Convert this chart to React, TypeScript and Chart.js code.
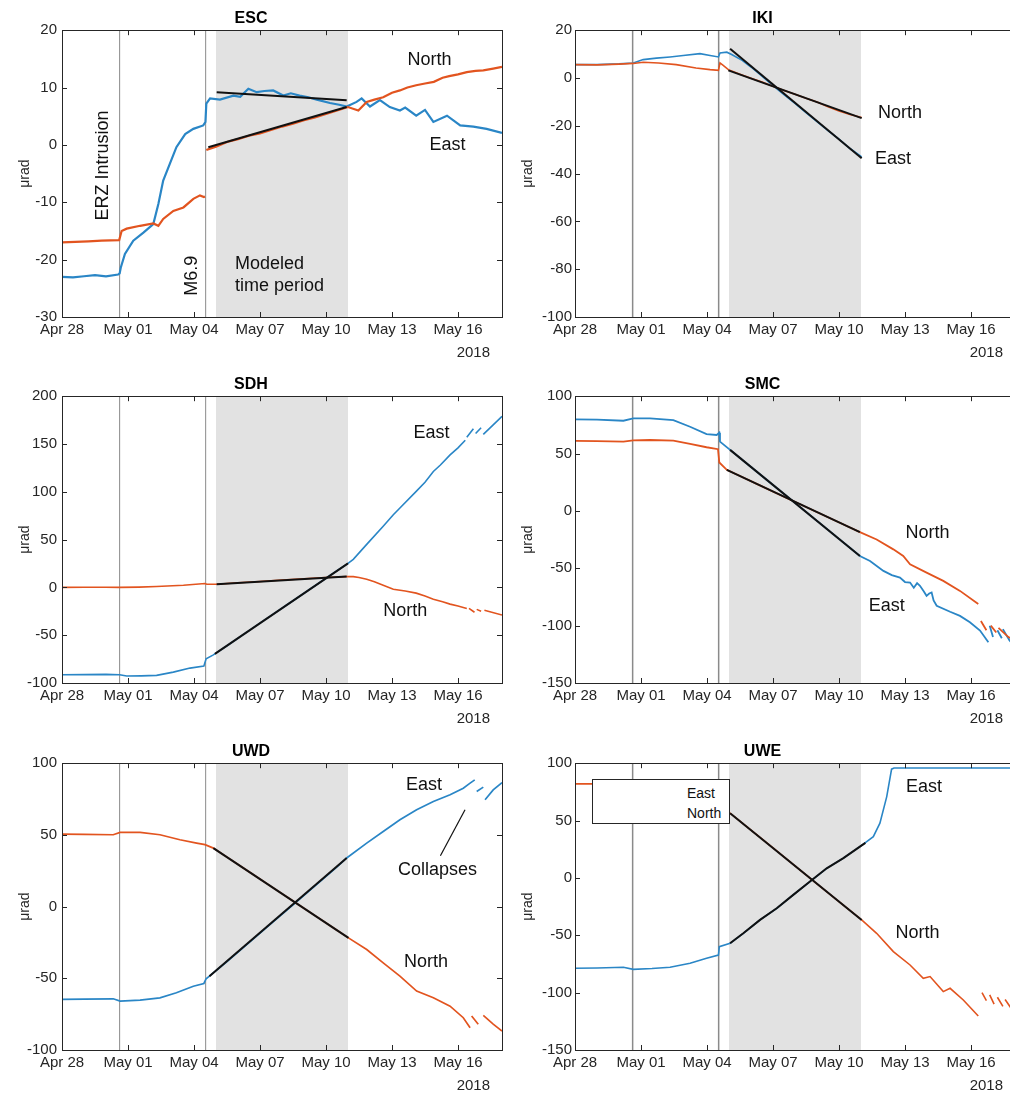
import React, { useEffect, useRef } from 'react';
import { Chart, registerables } from 'chart.js';

Chart.register(...registerables);

type Pt = [number, number | null];

// Time axis: days since 2018-04-28 00:00 (HST)
const tickDays = [0, 3, 6, 9, 12, 15, 18];
const tickLabels = ['Apr 28', 'May 01', 'May 04', 'May 07', 'May 10', 'May 13', 'May 16'];
const yearLabel = '2018';
const dayRange = [0, 20];
const erzIntrusionDay = 2.62;
const m69Day = 6.53;
const modeledPeriod = [7, 13];

// ---------------- ESC ----------------
const escEast: Pt[] = [
  [0, -23.0], [0.5, -23.1], [1.0, -22.9], [1.5, -22.7], [2.0, -22.9], [2.55, -22.6], [2.62, -22.4],
  [2.67, -21.4], [2.86, -19.0], [3.24, -16.7], [3.7, -15.3], [4.15, -13.8], [4.38, -10.3], [4.6, -6.2],
  [4.9, -3.3], [5.2, -0.4], [5.6, 1.9], [5.97, 2.8], [6.42, 3.4], [6.52, 4.0], [6.56, 7.2], [6.73, 8.1],
  [7.18, 7.9], [7.79, 8.6], [8.1, 8.4], [8.47, 9.8], [8.85, 9.2], [9.2, 9.4], [9.6, 9.5], [10.06, 8.6],
  [10.4, 9.0], [10.8, 8.6], [11.2, 8.3], [11.58, 7.9], [12.18, 7.3], [12.6, 7.0], [12.94, 6.7], [13.39, 7.5],
  [13.62, 8.1], [14.0, 6.7], [14.45, 7.8], [14.9, 6.6], [15.36, 6.0], [15.6, 6.5], [16.1, 5.1], [16.5, 6.1],
  [16.88, 4.0], [17.5, 5.1], [18.1, 3.4], [18.7, 3.2], [19.3, 2.8], [20, 2.1],
];
const escNorth: Pt[] = [
  [0, -17.0], [0.6, -16.9], [1.2, -16.8], [1.8, -16.7], [2.6, -16.6], [2.71, -15.0], [2.94, -14.6],
  [3.55, -14.1], [4.15, -13.7], [4.38, -14.1], [4.6, -12.9], [5.06, -11.5], [5.52, -10.9], [5.97, -9.4],
  [6.27, -8.8], [6.45, -9.1], [6.5, -9.0], [6.53, null], [6.56, -0.9], [7.0, -0.3], [7.5, 0.5], [8.0, 1.0],
  [8.5, 1.6], [9.0, 2.0], [9.5, 2.6], [10.0, 3.2], [10.5, 3.7], [11.0, 4.3], [11.5, 4.8], [12.0, 5.4],
  [12.5, 6.0], [13.0, 6.6], [13.47, 6.0], [13.85, 7.5], [14.2, 7.9], [14.6, 8.3], [15.0, 9.1], [15.36, 9.5],
  [15.7, 10.0], [16.1, 10.4], [16.5, 10.7], [16.9, 11.0], [17.3, 11.7], [17.6, 12.0], [18.0, 12.3],
  [18.4, 12.7], [18.8, 12.9], [19.15, 13.0], [19.6, 13.3], [20, 13.6],
];
const escEastFit: Pt[] = [[7.03, 9.2], [12.94, 7.8]];
const escNorthFit: Pt[] = [[6.65, -0.4], [12.94, 6.6]];

// ---------------- IKI ----------------
const ikiEast: Pt[] = [
  [0, 5.6], [1, 5.6], [2, 5.9], [2.65, 6.3], [3.1, 7.7], [3.7, 8.3], [4.32, 8.8], [4.92, 9.4], [5.68, 10.2],
  [6.14, 9.4], [6.52, 8.8], [6.59, 10.5], [6.9, 10.8], [7.12, 9.8], [7.6, 7.4], [8.0, 4.6], [8.5, 0.8],
  [9.0, -3.2], [9.5, -7.0], [10.0, -10.6], [10.5, -14.5], [11.0, -18.3], [11.5, -22.0], [12.0, -25.6],
  [12.5, -29.5], [13.03, -33.0],
];
const ikiNorth: Pt[] = [
  [0, 5.6], [1, 5.5], [2, 5.8], [2.65, 6.1], [3.1, 6.6], [3.8, 6.3], [4.6, 5.6], [5.5, 4.2], [6.14, 3.5],
  [6.52, 3.2], [6.59, 6.3], [6.75, 5.2], [6.97, 3.5], [7.5, 1.6], [8.0, -0.1], [8.5, -1.7], [9.0, -3.5],
  [9.5, -5.2], [10.0, -6.8], [10.5, -8.5], [11.0, -10.0], [11.5, -12.0], [12.0, -13.8], [12.5, -15.3],
  [13.03, -16.5],
];
const ikiEastFit: Pt[] = [[7.05, 12.2], [13.03, -33.6]];
const ikiNorthFit: Pt[] = [[6.97, 3.2], [13.03, -16.8]];

// ---------------- SDH ----------------
const sdhEast: Pt[] = [
  [0, -91.4], [1, -91.2], [2, -91.0], [2.62, -91.4], [2.94, -92.7], [3.6, -92.5], [4.3, -92.0], [5.06, -88.6],
  [5.82, -84.4], [6.45, -82.3], [6.55, -74.7], [6.88, -70.6], [7.5, -61], [8.5, -45.3], [9.5, -29.6],
  [10.5, -14], [11.5, 1.7], [12.5, 17.4], [13.0, 25.2], [13.24, 29.3], [13.85, 45], [14.6, 64], [15.06, 76],
  [15.36, 83], [16.1, 100.4], [16.5, 110], [16.88, 121.3], [17.2, 128], [17.64, 138.6], [18.0, 146],
  [18.33, 154], [18.36, null], [18.4, 157], [18.7, 166], [18.75, null], [18.8, 161], [19.05, 167],
  [19.1, null], [19.15, 160], [19.6, 170], [20, 179],
];
const sdhNorth: Pt[] = [
  [0, 0], [1, 0.1], [2, 0.2], [2.62, 0], [3.5, 0.3], [4.3, 0.9], [5.52, 2.3], [6.5, 4.0], [6.58, 3.3],
  [7.03, 3.3], [8, 4.8], [9, 6.2], [10, 7.8], [11, 9], [12, 10.3], [12.94, 11.3], [13.24, 11.3], [13.5, 10.3],
  [13.85, 8.5], [14.2, 6], [14.6, 2.3], [15.06, -1.9], [15.6, -3.8], [16.1, -6], [16.5, -9], [16.88, -12.3],
  [17.3, -15], [17.64, -17.5], [18.0, -19.5], [18.4, -22], [18.45, null], [18.5, -22], [18.75, -26],
  [18.8, null], [18.85, -23], [19.05, -25], [19.12, null], [19.2, -24], [20, -28.9],
];
const sdhEastFit: Pt[] = [[6.95, -69.5], [13.0, 25.2]];
const sdhNorthFit: Pt[] = [[7.03, 3.3], [12.94, 11.3]];

// ---------------- SMC ----------------
const smcEast: Pt[] = [
  [0, 79.8], [1, 79.5], [2.2, 78.6], [2.65, 80.6], [3.41, 80.6], [4.47, 79.2], [5.23, 73.4], [5.98, 67],
  [6.44, 66.2], [6.56, 68.2], [6.59, 60.4], [7.05, 53.2], [8, 38.3], [9, 22.6], [10, 7], [11, -8.7],
  [12, -24.4], [12.95, -39.3], [13.41, -43.6], [14.02, -52.3], [14.4, -56], [14.77, -58.1], [15.0, -62],
  [15.23, -62.4], [15.4, -67], [15.55, -63], [15.68, -65.3], [15.85, -70], [15.98, -74], [16.1, -72],
  [16.21, -71.1], [16.3, -78], [16.44, -82.7], [17.05, -87.9], [17.5, -91.5], [17.95, -97.1], [18.41, -104.3],
  [18.79, -114.5], [18.82, null], [18.85, -100], [19.0, -110], [19.1, null], [19.2, -104], [19.4, -111],
  [19.42, null], [19.45, -103], [19.75, -113], [20, -118],
];
const smcNorth: Pt[] = [
  [0, 61], [1, 60.8], [2.2, 60.4], [2.65, 61.5], [3.41, 61.8], [4.47, 61.3], [5.23, 58.4], [5.98, 55.5],
  [6.5, 53.8], [6.56, 42.2], [6.9, 35.8], [7.5, 30.4], [8.5, 21.4], [9.5, 12.4], [10.5, 3.4], [11.5, -5.5],
  [12.5, -14.5], [12.95, -18.5], [13.71, -24.9], [14.47, -33.5], [14.92, -39.3], [15.23, -46.5],
  [15.98, -53.8], [16.74, -61], [17.5, -69.7], [18.33, -81.2], [18.4, null], [18.45, -96], [18.7, -104],
  [18.8, null], [18.9, -100], [19.15, -106], [19.2, null], [19.25, -102], [19.7, -110], [20, -113],
];
const smcEastFit: Pt[] = [[7.05, 53.2], [12.95, -39.3]];
const smcNorthFit: Pt[] = [[6.9, 35.8], [12.95, -18.5]];

// ---------------- UWD ----------------
const uwdEast: Pt[] = [
  [0, -64.7], [1, -64.5], [2.33, -64.3], [2.64, -65.9], [3.55, -65.2], [4.45, -63.6], [5.2, -60.1],
  [5.97, -55.5], [6.45, -53.6], [6.55, -50.3], [6.7, -48.5], [7.5, -38.3], [8.5, -25.1], [9.5, -11.9],
  [10.5, 1.3], [11.5, 14.5], [12.5, 27.7], [12.94, 33.9], [13.85, 44.3], [14.6, 52.4], [15.36, 60.6],
  [16.12, 67.5], [16.88, 73.3], [17.64, 78], [18.24, 82.6], [18.55, 86.1], [18.76, 88.4], [18.8, null],
  [18.85, 80.3], [19.15, 83.3], [19.2, null], [19.23, 74.5], [19.6, 81.4], [20, 86.5],
];
const uwdNorth: Pt[] = [
  [0, 50.6], [1, 50.4], [2.33, 50.1], [2.64, 51.7], [3.55, 51.7], [4.45, 50.1], [5.36, 46.6], [6.12, 44.3],
  [6.5, 43.2], [6.88, 40.8], [7.5, 34.5], [8.5, 24.3], [9.5, 14.1], [10.5, 3.9], [11.5, -6.3], [12.5, -16.5],
  [13.02, -21.8], [13.85, -29.9], [14.6, -39.2], [15.36, -48.5], [16.12, -58.9], [16.88, -63.6],
  [17.64, -69.4], [18.24, -77.5], [18.55, -84.5], [18.58, null], [18.62, -76.3], [18.92, -82.1],
  [19.0, null], [19.15, -75.9], [19.6, -82], [20, -86.8],
];
const uwdEastFit: Pt[] = [[6.7, -48.5], [12.94, 33.9]];
const uwdNorthFit: Pt[] = [[6.88, 40.8], [13.02, -21.8]];

// ---------------- UWE ----------------
const uweEast: Pt[] = [
  [0, -78.8], [1, -78.5], [2.2, -77.9], [2.65, -79.7], [3.5, -79], [4.32, -77.9], [5.23, -74.4],
  [5.98, -70.1], [6.52, -67.2], [6.56, -59.9], [7.05, -57], [7.65, -48.3], [8.41, -36.6], [9.17, -26.5],
  [9.92, -14.8], [10.68, -3.2], [11.44, 8.4], [12.2, 17.2], [12.95, 27.3], [13.26, 31.7], [13.56, 36],
  [13.86, 47.7], [14.17, 70.9], [14.39, 94.8], [14.5, 95.8], [16, 95.8], [18, 95.8], [20, 95.8],
];
const uweNorth: Pt[] = [
  [0, 82], [1.5, 82], [2.65, 81.5], [4, 82], [5.5, 79], [6.52, 76], [6.56, 60], [7.05, 56.4], [8, 41.6],
  [9, 26.2], [10, 10.5], [11, -5.1], [12, -20.6], [13.03, -36.6], [13.71, -48.3], [14.47, -64.2],
  [15.23, -75.9], [15.83, -87.5], [16.14, -86], [16.74, -99.1], [17.05, -96.2], [17.65, -106.4],
  [18.33, -120.3], [18.4, null], [18.5, -100], [18.7, -107], [18.78, null], [18.85, -102], [19.05, -110],
  [19.12, null], [19.2, -104], [19.45, -112], [19.5, null], [19.55, -106], [19.8, -113],
];
const uweEastFit: Pt[] = [
  [7.05, -57], [7.65, -48.3], [8.41, -36.6], [9.17, -26.5], [9.92, -14.8], [10.68, -3.2], [11.44, 8.4],
  [12.2, 17.2], [12.95, 27.3], [13.2, 30.5],
];
const uweNorthFit: Pt[] = [[7.05, 56.4], [13.03, -36.6]];

const legendLabels = ['East', 'North'];

// ---------------- styling ----------------
const FONT = '"Liberation Sans", Arial, Helvetica, sans-serif';
const EAST_COLOR = '#2a86c6';
const NORTH_COLOR = '#e2541f';
const FIT_COLOR = '#111111';
const EVENT_COLOR = '#8a8a8a';
const BAND_COLOR = '#e2e2e2';
const AXIS_COLOR = '#262626';

type Note = { text: string; x: number; y: number; rotate?: boolean; align?: CanvasTextAlign };

type PanelCfg = {
  title: string;
  col: number;
  row: number;
  yTicks: number[];
  east: Pt[];
  north: Pt[];
  eastFit: Pt[];
  northFit: Pt[];
  lineWidth: number;
  notes: Note[];
  leader?: Pt[];
  legend?: boolean;
};

const panels: PanelCfg[] = [
  {
    title: 'ESC', col: 0, row: 0, yTicks: [-30, -20, -10, 0, 10, 20],
    east: escEast, north: escNorth, eastFit: escEastFit, northFit: escNorthFit, lineWidth: 2.2,
    notes: [
      { text: 'North', x: 16.7, y: 14.75 },
      { text: 'East', x: 17.52, y: -0.1 },
      { text: 'ERZ Intrusion', x: 1.88, y: -3.6, rotate: true },
      { text: 'M6.9', x: 5.93, y: -22.8, rotate: true },
      { text: 'Modeled', x: 7.86, y: -20.7, align: 'left' },
      { text: 'time period', x: 7.86, y: -24.6, align: 'left' },
    ],
  },
  {
    title: 'IKI', col: 1, row: 0, yTicks: [-100, -80, -60, -40, -20, 0, 20],
    east: ikiEast, north: ikiNorth, eastFit: ikiEastFit, northFit: ikiNorthFit, lineWidth: 1.6,
    notes: [
      { text: 'North', x: 14.77, y: -14.7 },
      { text: 'East', x: 14.45, y: -34 },
    ],
  },
  {
    title: 'SDH', col: 0, row: 1, yTicks: [-100, -50, 0, 50, 100, 150, 200],
    east: sdhEast, north: sdhNorth, eastFit: sdhEastFit, northFit: sdhNorthFit, lineWidth: 1.6,
    notes: [
      { text: 'East', x: 16.8, y: 161 },
      { text: 'North', x: 15.6, y: -24.4 },
    ],
  },
  {
    title: 'SMC', col: 1, row: 1, yTicks: [-150, -100, -50, 0, 50, 100],
    east: smcEast, north: smcNorth, eastFit: smcEastFit, northFit: smcNorthFit, lineWidth: 1.8,
    notes: [
      { text: 'North', x: 16.02, y: -19 },
      { text: 'East', x: 14.17, y: -83.3 },
    ],
  },
  {
    title: 'UWD', col: 0, row: 2, yTicks: [-100, -50, 0, 50, 100],
    east: uwdEast, north: uwdNorth, eastFit: uwdEastFit, northFit: uwdNorthFit, lineWidth: 1.7,
    notes: [
      { text: 'East', x: 16.45, y: 84.9 },
      { text: 'North', x: 16.55, y: -38.8 },
      { text: 'Collapses', x: 17.07, y: 25.8 },
    ],
    leader: [[17.2, 35.5], [18.32, 67.5]],
  },
  {
    title: 'UWE', col: 1, row: 2, yTicks: [-150, -100, -50, 0, 50, 100],
    east: uweEast, north: uweNorth, eastFit: uweEastFit, northFit: uweNorthFit, lineWidth: 1.6,
    notes: [
      { text: 'East', x: 15.86, y: 79.6 },
      { text: 'North', x: 15.57, y: -48.2 },
    ],
    legend: true,
  },
];

const CANVAS_W = 510;
const CANVAS_H = 371;
const ROW_TOP = [0, 366, 733];
const COL_LEFT = [0, 510];

const toXY = (pts: Pt[]) => pts.map(([x, y]) => ({ x, y }));

function lineSet(pts: Pt[], color: string, width: number) {
  return {
    data: toXY(pts),
    borderColor: color,
    backgroundColor: color,
    borderWidth: width,
    pointRadius: 0,
    tension: 0,
    spanGaps: false,
    fill: false,
  };
}

function Panel({ cfg }: { cfg: PanelCfg }) {
  const ref = useRef<HTMLCanvasElement>(null);

  useEffect(() => {
    const canvas = ref.current;
    if (!canvas) return;
    const yMin = cfg.yTicks[0];
    const yMax = cfg.yTicks[cfg.yTicks.length - 1];
    const left = cfg.col === 0;

    const decorations = {
      id: 'decorations',
      afterDraw(chart: any) {
        const { ctx, chartArea: a, scales } = chart;
        const xs = scales.x;
        const ys = scales.y;
        ctx.save();
        // axes box with inward tick marks
        ctx.strokeStyle = AXIS_COLOR;
        ctx.lineWidth = 1;
        ctx.strokeRect(Math.round(a.left) + 0.5, Math.round(a.top) + 0.5, Math.round(a.right - a.left), Math.round(a.bottom - a.top));
        ctx.beginPath();
        tickDays.forEach((d) => {
          const px = Math.round(xs.getPixelForValue(d)) + 0.5;
          ctx.moveTo(px, a.bottom); ctx.lineTo(px, a.bottom - 5);
          ctx.moveTo(px, a.top); ctx.lineTo(px, a.top + 5);
        });
        cfg.yTicks.forEach((v) => {
          const py = Math.round(ys.getPixelForValue(v)) + 0.5;
          ctx.moveTo(a.left, py); ctx.lineTo(a.left + 5, py);
          ctx.moveTo(a.right, py); ctx.lineTo(a.right - 5, py);
        });
        ctx.stroke();

        // year label under the last tick
        ctx.fillStyle = AXIS_COLOR;
        ctx.font = `15px ${FONT}`;
        ctx.textAlign = 'right';
        ctx.textBaseline = 'middle';
        ctx.fillText(yearLabel, a.right - 12, a.bottom + 36);

        // text annotations
        ctx.fillStyle = '#111';
        ctx.font = `18px ${FONT}`;
        cfg.notes.forEach((n) => {
          const px = xs.getPixelForValue(n.x);
          const py = ys.getPixelForValue(n.y);
          ctx.save();
          ctx.translate(px, py);
          if (n.rotate) ctx.rotate(-Math.PI / 2);
          ctx.textAlign = n.align ?? 'center';
          ctx.textBaseline = 'middle';
          ctx.fillText(n.text, 0, 0);
          ctx.restore();
        });
        if (cfg.leader) {
          const [[x1, y1], [x2, y2]] = cfg.leader;
          ctx.strokeStyle = '#111';
          ctx.lineWidth = 1.2;
          ctx.beginPath();
          ctx.moveTo(xs.getPixelForValue(x1), ys.getPixelForValue(y1 as number));
          ctx.lineTo(xs.getPixelForValue(x2), ys.getPixelForValue(y2 as number));
          ctx.stroke();
        }
        ctx.restore();
      },
    };

    const chart = new Chart(canvas, {
      type: 'line',
      data: {
        datasets: [
          lineSet(cfg.northFit, FIT_COLOR, 2),
          lineSet(cfg.eastFit, FIT_COLOR, 2),
          lineSet(cfg.north, NORTH_COLOR, cfg.lineWidth),
          lineSet(cfg.east, EAST_COLOR, cfg.lineWidth),
          lineSet([[erzIntrusionDay, yMin], [erzIntrusionDay, yMax]], EVENT_COLOR, left ? 1 : 1.5),
          lineSet([[m69Day, yMin], [m69Day, yMax]], EVENT_COLOR, left ? 1 : 1.5),
          {
            data: toXY([[modeledPeriod[0], yMax], [modeledPeriod[1], yMax]]),
            fill: 'start',
            backgroundColor: BAND_COLOR,
            borderWidth: 0,
            pointRadius: 0,
          },
        ] as any,
      },
      options: {
        animation: false,
        responsive: false,
        maintainAspectRatio: false,
        events: [],
        layout: { padding: { left: 0, right: left ? 8 : 5, top: 0, bottom: 0 } },
        plugins: {
          legend: { display: false },
          tooltip: { enabled: false },
          title: {
            display: true,
            text: cfg.title,
            color: '#000',
            font: { family: FONT, size: 16, weight: 'bold' },
            padding: { top: 9, bottom: 2 },
          },
        },
        scales: {
          x: {
            type: 'linear',
            min: dayRange[0],
            max: dayRange[1],
            grid: { display: false, drawTicks: false },
            border: { display: false },
            afterBuildTicks: (s: any) => { s.ticks = tickDays.map((v) => ({ value: v })); },
            afterFit: (s: any) => { s.height = CANVAS_H - 317; },
            ticks: {
              autoSkip: false,
              maxRotation: 0,
              padding: 4,
              color: AXIS_COLOR,
              font: { family: FONT, size: 15 },
              callback: (v: any) => tickLabels[tickDays.indexOf(Number(v))] ?? '',
            },
          },
          y: {
            type: 'linear',
            min: yMin,
            max: yMax,
            grid: { display: false, drawTicks: false },
            border: { display: false },
            afterBuildTicks: (s: any) => { s.ticks = cfg.yTicks.map((v) => ({ value: v })); },
            afterFit: (s: any) => { s.width = left ? 62 : 65; },
            ticks: {
              autoSkip: false,
              padding: left ? 5 : 3,
              color: AXIS_COLOR,
              font: { family: FONT, size: 15 },
            },
            title: {
              display: true,
              text: 'μrad',
              color: AXIS_COLOR,
              font: { family: FONT, size: 14 },
              padding: { top: left ? 17 : 10, bottom: 0 },
            },
          },
        },
      } as any,
      plugins: [decorations],
    });
    return () => chart.destroy();
  }, [cfg]);

  return (
    <div
      style={{
        position: 'absolute',
        left: COL_LEFT[cfg.col],
        top: ROW_TOP[cfg.row],
        width: CANVAS_W,
        height: CANVAS_H,
      }}
    >
      <canvas ref={ref} width={CANVAS_W} height={CANVAS_H} style={{ display: 'block' }} />
      {cfg.legend && (
        <div
          style={{
            position: 'absolute',
            left: 82,
            top: 46,
            width: 138,
            height: 45,
            border: `1px solid ${AXIS_COLOR}`,
            background: '#fff',
            fontFamily: FONT,
            fontSize: 14,
            lineHeight: '20px',
            color: '#111',
            paddingLeft: 94,
            paddingTop: 3,
            boxSizing: 'border-box',
          }}
        >
          {legendLabels.map((l) => (
            <div key={l}>{l}</div>
          ))}
        </div>
      )}
    </div>
  );
}

export default function App() {
  return (
    <div
      style={{
        position: 'fixed',
        left: 0,
        top: 0,
        width: 1010,
        height: 1101,
        overflow: 'hidden',
        background: '#fff',
      }}
    >
      {panels.map((p) => (
        <Panel key={p.title} cfg={p} />
      ))}
    </div>
  );
}
